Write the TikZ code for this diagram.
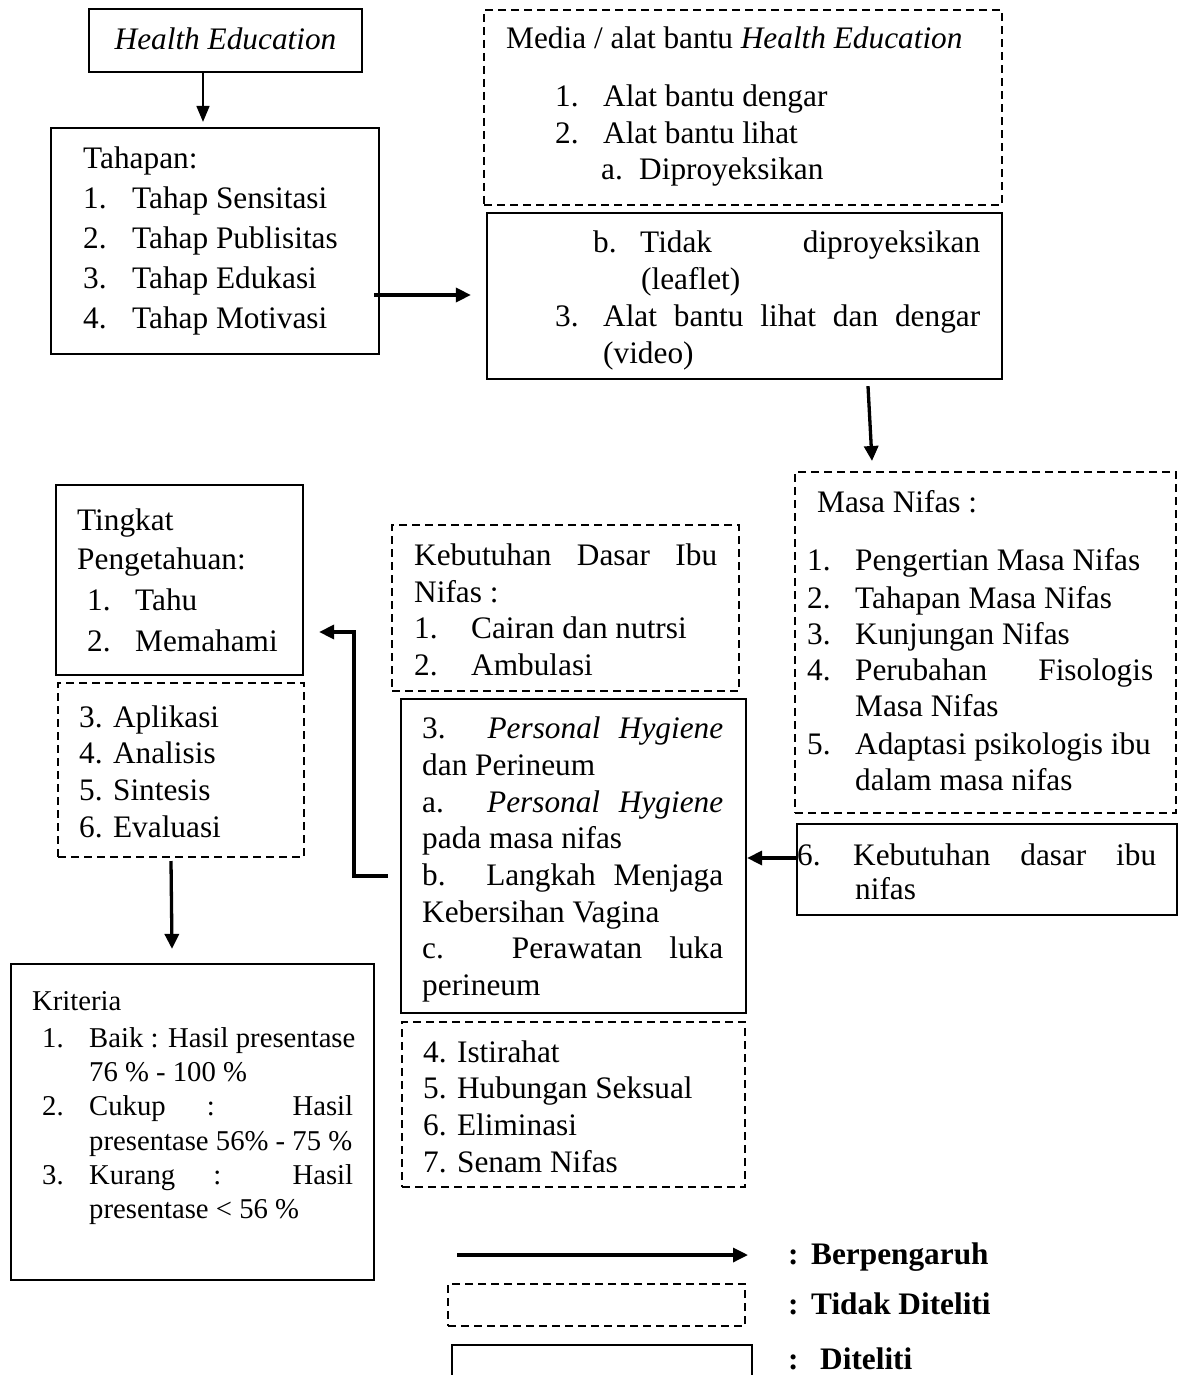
\documentclass[tikz,border=0pt]{standalone}
\usepackage{fontspec}
\setmainfont{Liberation Serif}
\usetikzlibrary{arrows.meta,calc}
\newcommand{\itemno}[2]{\makebox[#1][l]{#2}}
\newcommand{\justline}[2]{\makebox[#1][s]{#2}}
\begin{document}
\begin{tikzpicture}[x=1pt,y=-1pt,
  solidbox/.style={draw, line width=2.2pt, inner sep=0pt},
  dashbox/.style={draw, line width=2pt, dash pattern=on 8pt off 5pt, inner sep=0pt},
  txt/.style={anchor=base west, inner sep=0pt, font=\fontsize{31.3}{36}\selectfont},
  smtxt/.style={anchor=base west, inner sep=0pt, font=\fontsize{28.7}{34}\selectfont},
  arr/.style={line width=3.3pt, -{Triangle[length=15pt,width=14pt]}},
  thinarr/.style={line width=1.7pt, -{Triangle[length=16pt,width=13pt]}}]
\useasboundingbox (0,0) rectangle (1179,1375);

% ---------- boxes ----------
\node[solidbox, minimum width=273pt, minimum height=63pt] (he) at (225.5,40.5) {};
\node[solidbox, minimum width=328pt, minimum height=226pt] (tah) at (215,241) {};
\node[dashbox, minimum width=518pt, minimum height=195pt] (media) at (743,107.5) {};
\node[solidbox, minimum width=515pt, minimum height=166pt] (alat) at (744.5,296) {};
\node[dashbox, minimum width=381pt, minimum height=341pt] (nifas) at (985.5,642.5) {};
\node[solidbox, minimum width=380pt, minimum height=91pt] (keb6) at (987,869.5) {};
\node[dashbox, minimum width=347pt, minimum height=166pt] (kebd) at (565.5,608) {};
\node[solidbox, minimum width=345pt, minimum height=314pt] (ph) at (573.5,856) {};
\node[dashbox, minimum width=343pt, minimum height=165pt] (ist) at (573.5,1104.5) {};
\node[solidbox, minimum width=247pt, minimum height=190pt] (ting) at (179.5,580) {};
\node[dashbox, minimum width=246pt, minimum height=174pt] (apl) at (181,770) {};
\node[solidbox, minimum width=363pt, minimum height=316pt] (krit) at (192.5,1122) {};
\node[dashbox, minimum width=297pt, minimum height=42pt] (legd) at (596.5,1305) {};
\node[solidbox, minimum width=300pt, minimum height=60pt] (legs) at (602,1375) {};

% ---------- texts ----------
\node[txt, anchor=base] (heT) at (225.5,50) {\textit{Health Education}};

\node[txt] (tahT0) at (83,168) {Tahapan:};
\foreach \yy/\t [count=\i] in {208/Tahap Sensitasi, 248/Tahap Publisitas, 288/Tahap Edukasi, 328/Tahap Motivasi}
  \node[txt] (tahT\i) at (83,\yy) {\itemno{49pt}{\i.}\t};

\node[txt] (medT0) at (506,49) {Media / alat bantu \textit{Health Education}};
\node[txt] (medT1) at (555,107) {\itemno{48pt}{1.}Alat bantu dengar};
\node[txt] (medT2) at (555,144) {\itemno{48pt}{2.}Alat bantu lihat};
\node[txt] (medT3) at (601,180) {\itemno{38pt}{a.}Diproyeksikan};

\node[txt] (alT1) at (593,252) {\itemno{47pt}{b.}\justline{340pt}{Tidak diproyeksikan}};
\node[txt] (alT2) at (641,289) {(leaflet)};
\node[txt] (alT3) at (555,326) {\itemno{48pt}{3.}\justline{377pt}{Alat bantu lihat dan dengar}};
\node[txt] (alT4) at (603,363) {(video)};

\node[txt] (nifT0) at (817,512) {Masa Nifas :};
\node[txt] (nifT1) at (807,570) {\itemno{48pt}{1.}Pengertian Masa Nifas};
\node[txt] (nifT2) at (807,608) {\itemno{48pt}{2.}Tahapan Masa Nifas};
\node[txt] (nifT3) at (807,644) {\itemno{48pt}{3.}Kunjungan Nifas};
\node[txt] (nifT4) at (807,680) {\itemno{48pt}{4.}\justline{298pt}{Perubahan Fisologis}};
\node[txt] (nifT5) at (855,716) {Masa Nifas};
\node[txt] (nifT6) at (807,754) {\itemno{48pt}{5.}Adaptasi psikologis ibu};
\node[txt] (nifT7) at (855,790) {dalam masa nifas};

\node[txt] (k6T1) at (797,865) {\itemno{56pt}{6.}\justline{303pt}{Kebutuhan dasar ibu}};
\node[txt] (k6T2) at (855,899) {nifas};

\node[txt] (kbT1) at (414,565) {\justline{303pt}{Kebutuhan Dasar Ibu}};
\node[txt] (kbT2) at (414,602) {Nifas :};
\node[txt] (kbT3) at (414,638) {\itemno{57pt}{1.}Cairan dan nutrsi};
\node[txt] (kbT4) at (414,675) {\itemno{57pt}{2.}Ambulasi};

\node[txt] (phT1) at (422,738) {\justline{301pt}{3. \textit{Personal} \textit{Hygiene}}};
\node[txt] (phT2) at (422,775) {dan Perineum};
\node[txt] (phT3) at (422,812) {\justline{301pt}{a. \textit{Personal} \textit{Hygiene}}};
\node[txt] (phT4) at (422,848) {pada masa nifas};
\node[txt] (phT5) at (422,885) {\justline{301pt}{b. Langkah Menjaga}};
\node[txt] (phT6) at (422,922) {Kebersihan Vagina};
\node[txt] (phT7) at (422,958) {\justline{301pt}{c. Perawatan luka}};
\node[txt] (phT8) at (422,995) {perineum};

\node[txt] (isT1) at (423,1062) {4. Istirahat};
\node[txt] (isT2) at (423,1098) {5. Hubungan Seksual};
\node[txt] (isT3) at (423,1135) {6. Eliminasi};
\node[txt] (isT4) at (423,1172) {7. Senam Nifas};

\node[txt] (tgT1) at (77,530) {Tingkat};
\node[txt] (tgT2) at (77,569) {Pengetahuan:};
\node[txt] (tgT3) at (87,610) {\itemno{48pt}{1.}Tahu};
\node[txt] (tgT4) at (87,651) {\itemno{48pt}{2.}Memahami};

\node[txt] (apT1) at (79,727) {3. Aplikasi};
\node[txt] (apT2) at (79,763) {4. Analisis};
\node[txt] (apT3) at (79,800) {5. Sintesis};
\node[txt] (apT4) at (79,837) {6. Evaluasi};

\node[smtxt] (krT0) at (32,1010) {Kriteria};
\node[smtxt] (krT1) at (42,1047) {\itemno{47pt}{1.}Baik : Hasil presentase};
\node[smtxt] (krT2) at (89,1081) {76 \% - 100 \%};
\node[smtxt] (krT3) at (42,1115) {\itemno{47pt}{2.}\justline{264pt}{Cukup : Hasil}};
\node[smtxt] (krT4) at (89,1150) {presentase 56\% - 75 \%};
\node[smtxt] (krT5) at (42,1184) {\itemno{47pt}{3.}\justline{264pt}{Kurang : Hasil}};
\node[smtxt] (krT6) at (89,1218) {presentase < 56 \%};

\node[txt] (lgT1) at (788,1264) {\itemno{23pt}{\textbf{:}}\textbf{Berpengaruh}};
\node[txt] (lgT2) at (788,1314) {\itemno{23pt}{\textbf{:}}\textbf{Tidak Diteliti}};
\node[txt] (lgT3) at (788,1369) {\itemno{32pt}{\textbf{:}}\textbf{Diteliti}};

% ---------- connectors ----------
\draw[thinarr] ([xshift=-22.5pt]he.south) -- ([xshift=-12pt,yshift=5pt]tah.north);
\draw[arr] ($(tah.east)+(-6,54)$) -- ($(alat.west)+(-15,-1)$);
\draw[arr] ($(alat.south)+(123.5,6)$) -- ($(nifas.north)+(-113.5,-10)$);
\draw[arr] ($(keb6.west)+(0,-11.5)$) -- ($(ph.east)+(0,2)$);
\draw[arr] ($(ph.west)+(-12,20)$) -| ($(ting.east)+(50,52)$) -- ($(ting.east)+(15,52)$);
\draw[arr] ($(apl.south)+(-10,3)$) -- ($(krit.north)+(-20.5,-14)$);
\coordinate (lgA) at (457,1255);
\coordinate (lgB) at (748,1255);
\draw[arr] (lgA) -- (lgB);
\end{tikzpicture}
\end{document}
